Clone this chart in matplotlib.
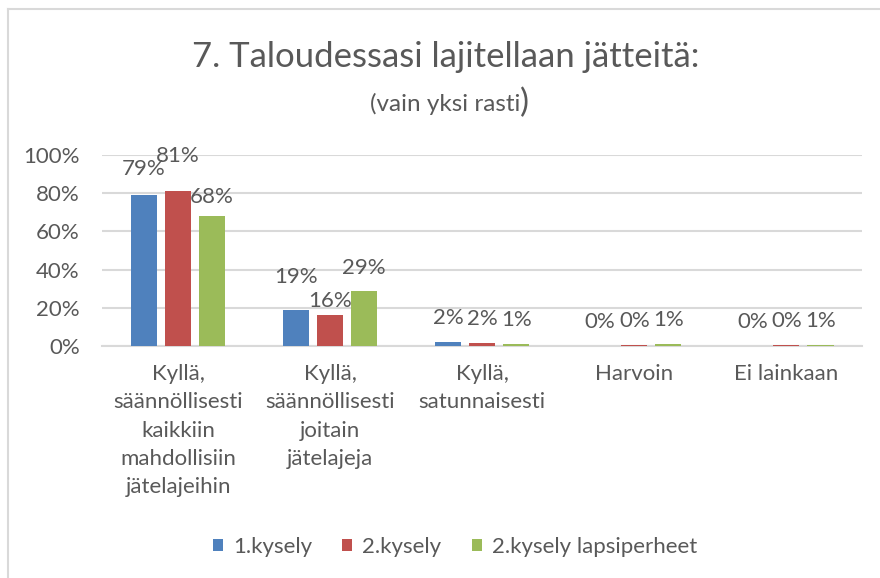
import matplotlib.pyplot as plt
import numpy as np
from matplotlib.patches import Patch
from matplotlib.lines import Line2D

plt.rcParams['font.family'] = ['Lato', 'DejaVu Sans']

categories = ["Kyllä,\nsäännöllisesti\nkaikkiin\nmahdollisiin\njätelajeihin",
              "Kyllä,\nsäännöllisesti\njoitain\njätelajeja",
              "Kyllä,\nsatunnaisesti",
              "Harvoin",
              "Ei lainkaan"]
series_names = ["1.kysely", "2.kysely", "2.kysely lapsiperheet"]
kysely1 = [79, 19, 2.0, 0.0, 0.0]
kysely2 = [81, 16, 1.6, 0.3, 0.3]
lapsiperheet = [68, 29, 1.2, 0.9, 0.5]
labels1 = ["79%", "19%", "2%", "0%", "0%"]
labels2 = ["81%", "16%", "2%", "0%", "0%"]
labels3 = ["68%", "29%", "1%", "1%", "1%"]

colors = ["#4F81BD", "#C0504D", "#9BBB59"]
txt = "#595959"
grid = "#D9D9D9"
fs = 16

fig = plt.figure(figsize=(8.8, 5.78), dpi=100)
ax = fig.add_axes([0.116, 0.4014, 0.864, 0.3304])

x = np.arange(len(categories))
width = 0.172
step = 0.224
# label lift in pixels, a few nudged like the original's overlap handling
lift = [[26, 33, 24, 24, 24], [35, 14, 24, 24, 24], [19, 23, 24, 24, 24]]
for i, (vals, labs) in enumerate(zip([kysely1, kysely2, lapsiperheet],
                                     [labels1, labels2, labels3])):
    pos = x + (i - 1) * step
    ax.bar(pos, np.array(vals) / 100, width, color=colors[i], zorder=3)
    for p, v, lab, l in zip(pos, vals, labs, lift[i]):
        ax.annotate(lab, (p, v / 100), xytext=(0, l * 0.72), textcoords="offset points",
                    ha="center", va="center", fontsize=fs, color=txt)

ax.set_xlim(-0.5, 4.5)
ax.set_ylim(0, 1)
ticks = np.arange(0, 1.01, 0.2)
ax.set_yticks(ticks)
ax.set_yticklabels([f"{round(v * 100)}%" for v in ticks])
ax.set_xticks(x)
ax.set_xticklabels(categories, linespacing=1.52, va="top")
ax.tick_params(axis="both", length=0, labelsize=fs, colors=txt)
ax.tick_params(axis="y", pad=16)
ax.tick_params(axis="x", pad=13)
ax.grid(axis="y", color=grid, lw=1.5, zorder=0)
for s in ["top", "right", "left"]:
    ax.spines[s].set_visible(False)
ax.spines["bottom"].set_color(grid)
ax.spines["bottom"].set_linewidth(1.5)

fig.text(446 / 880, 1 - 57 / 578, "7. Taloudessasi lajitellaan jätteitä:", ha="center",
         va="center", fontsize=25, color=txt)
fig.text(520 / 880, 1 - 104 / 578, "(vain yksi rasti", ha="right", va="center",
         fontsize=17.5, color=txt)
fig.text(520 / 880, 1 - 103 / 578, ")", ha="left", va="center", fontsize=24, color=txt)

handles = [Patch(facecolor=c) for c in colors]
fig.legend(handles, series_names, loc="center", bbox_to_anchor=(455 / 880, 1 - 547 / 578),
           ncol=3, frameon=False, fontsize=fs, labelcolor=txt, handlelength=0.45,
           handleheight=0.45, handletextpad=0.45, columnspacing=1.35)

fig.add_artist(Line2D([8 / 880, 1], [1 - 9 / 578] * 2, color=grid, lw=1.5))
fig.add_artist(Line2D([8 / 880] * 2, [0, 1 - 9 / 578], color=grid, lw=1.5))

fig.savefig("out.png", dpi=100)
